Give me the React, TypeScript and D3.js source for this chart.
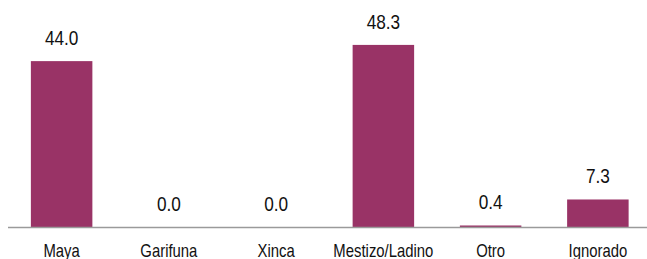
import React from "react";
import * as d3 from "d3";

const categories: string[] = ["Maya", "Garifuna", "Xinca", "Mestizo/Ladino", "Otro", "Ignorado"];
const values: number[] = [44.0, 0.0, 0.0, 48.3, 0.4, 7.3];

const W = 647;
const H = 259;
const FONT = "'Liberation Sans', Arial, sans-serif";

export default function App() {
  const x = d3
    .scaleBand<string>()
    .domain(categories)
    .range([8, 651.5])
    .paddingInner(0.4266)
    .paddingOuter(0.2133);
  const y = d3.scaleLinear().domain([0, 50]).range([227, 38.5]);

  return (
    <svg
      width={W}
      height={H}
      style={{ position: "absolute", left: 0, top: 0, background: "#fff" }}
    >
      {categories.map((c, i) => (
        <rect
          key={c}
          x={x(c)!}
          y={y(values[i])}
          width={x.bandwidth()}
          height={y(0) - y(values[i])}
          fill="#993366"
        />
      ))}
      <line x1={8} x2={W} y1={227.5} y2={227.5} stroke="#9a9a9a" strokeWidth={1.5} />
      {categories.map((c, i) => (
        <text
          key={"v" + c}
          transform={`translate(${x(c)! + x.bandwidth() / 2},${y(values[i]) - 16}) scale(0.82,1)`}
          textAnchor="middle"
          fontFamily={FONT}
          fontSize={21}
          fill="#111"
        >
          {d3.format(".1f")(values[i])}
        </text>
      ))}
      {categories.map((c) => (
        <text
          key={"c" + c}
          transform={`translate(${x(c)! + x.bandwidth() / 2},256.5) scale(0.85,1)`}
          textAnchor="middle"
          fontFamily={FONT}
          fontSize={17.5}
          fill="#111"
        >
          {c}
        </text>
      ))}
    </svg>
  );
}
